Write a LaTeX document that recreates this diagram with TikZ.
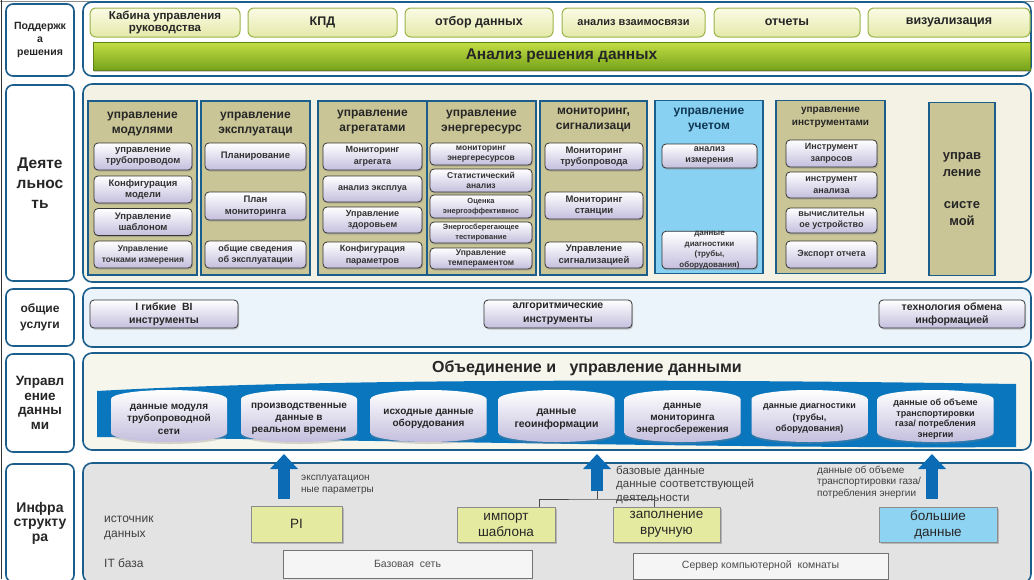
\documentclass[tikz,border=0pt]{standalone}
\usepackage{fontspec}
\setmainfont{Liberation Sans}
\usetikzlibrary{positioning,shadows,arrows.meta,calc}

\definecolor{frameblue}{HTML}{1B5E8C}
\definecolor{olivebox}{HTML}{C9C596}
\definecolor{skybox}{HTML}{88D1F2}
\definecolor{creamfill}{HTML}{F4F2E5}
\definecolor{icefill}{HTML}{EAF4FA}
\definecolor{greyfill}{HTML}{E3E3E3}
\definecolor{lavender}{HTML}{C4BEDD}
\definecolor{btntop}{HTML}{FBFBE6}
\definecolor{btnbottom}{HTML}{E4E9A8}
\definecolor{btnedge}{HTML}{9AB448}
\definecolor{barlight}{HTML}{C3DE45}
\definecolor{bardark}{HTML}{76A31A}
\definecolor{srcyellow}{HTML}{E4EA9F}
\definecolor{srcblue}{HTML}{8ED4F2}
\definecolor{bandblue}{HTML}{0A76BE}
\definecolor{arrowblue}{HTML}{0B6CB5}
\definecolor{txt}{HTML}{262626}

\begin{document}
\begin{tikzpicture}[x=1pt,y=-1pt,
	sz/.style 2 args={minimum width=#1pt,minimum height=#2pt,inner sep=0pt},
	rowlabel/.style={draw=frameblue,line width=1.6pt,rounded corners=7pt,fill=white,align=center,text=txt},
	panel/.style={draw=frameblue,line width=1.6pt,rounded corners=9pt},
	topbtn/.style={draw=btnedge,line width=1pt,rounded corners=6pt,top color=btntop,bottom color=btnbottom,align=center,text=txt},
	column/.style={draw=frameblue,line width=1.8pt,fill=olivebox},
	coltitle/.style={align=center,text=txt,inner sep=0pt,font=\bfseries\fontsize{12}{15}\selectfont},
	subitem/.style={draw=black!80,line width=.8pt,rounded corners=4pt,top color=white,bottom color=lavender,drop shadow={shadow xshift=1pt,shadow yshift=-1.5pt,opacity=.4},align=center,text=black!80,font=\bfseries\fontsize{9.5}{11.5}\selectfont},
	service/.style={subitem,font=\bfseries\fontsize{10.5}{13.5}\selectfont,text=txt},
	drumshade/.style={top color=white,bottom color=lavender,drop shadow={shadow xshift=0pt,shadow yshift=-2pt,opacity=.3}},
	drumtext/.style={align=center,text=txt,inner sep=0pt},
	srcbox/.style={draw=black!45,line width=.8pt,fill=srcyellow,drop shadow={shadow xshift=2pt,shadow yshift=-2pt,opacity=.45},align=center,text=txt,font=\fontsize{13.5}{16}\selectfont},
	itbox/.style={draw=black!55,line width=.7pt,fill=black!4,text=black!70,font=\fontsize{10.5}{12}\selectfont},
	note/.style={anchor=west,align=left,text=black!75,inner sep=0pt},
	bigarrow/.style={draw=arrowblue,line width=12pt,-{Triangle[width=27pt,length=15pt]}},
	bracket/.style={draw=black!70,line width=.7pt}
]
	\useasboundingbox (0,0) rectangle (1034,579);
	\clip (0,0) rectangle (1034,579);
	\draw[black!45,line width=1pt] (0,1) -- (1034,1);
	\draw[black!80,line width=1.2pt] (1.5,0) -- (1.5,579);

	\node[panel,fill=white,sz={948}{74}] (pSupport) at (557,39) {};
	\node[panel,fill=creamfill,sz={948}{198}] (pWork) at (557,183) {};
	\node[panel,fill=icefill,sz={948}{59}] (pService) at (557,317.5) {};
	\node[panel,fill=creamfill!70!white,sz={948}{97}] (pData) at (557,401.5) {};
	\node[panel,fill=greyfill,sz={948}{120}] (pInfra) at (557,523) {};

	\node[rowlabel,sz={68}{72},font=\bfseries\fontsize{10.5}{13}\selectfont] (lSupport) at (40,40) {Поддержк\\а\\решения};
	\node[rowlabel,sz={68}{196},font=\bfseries\fontsize{15.5}{20}\selectfont] (lWork) at (40,183) {Деяте\\льнос\\ть};
	\node[rowlabel,sz={68}{57},font=\bfseries\fontsize{12}{16}\selectfont] (lService) at (40,317.5) {общие\\услуги};
	\node[rowlabel,sz={68}{98},font=\bfseries\fontsize{13.5}{14.5}\selectfont] (lData) at (40,403) {Управл\\ение\\данны\\ми};
	\node[rowlabel,sz={68}{118},font=\bfseries\fontsize{14}{14.5}\selectfont] (lInfra) at (40,523) {Инфра\\структу\\ра};

	\node[topbtn,sz={150}{29},font=\bfseries\fontsize{11.5}{12.5}\selectfont] (b1) at (165,22.5) {Кабина управления\\руководства};
	\node[topbtn,sz={149}{29},font=\bfseries\fontsize{12.5}{14}\selectfont] (b2) at (322.5,22.5) {КПД};
	\node[topbtn,sz={148}{29},font=\bfseries\fontsize{12.5}{14}\selectfont] (b3) at (479,22.5) {отбор данных};
	\node[topbtn,sz={143}{29},font=\bfseries\fontsize{11}{13}\selectfont] (b4) at (633.5,22.5) {анализ взаимосвязи};
	\node[topbtn,sz={146}{29},font=\bfseries\fontsize{12.5}{14}\selectfont] (b5) at (787,22.5) {отчеты};
	\node[topbtn,sz={162}{29},font=\bfseries\fontsize{12.5}{14}\selectfont] (b6) at (949,22.5) {визуализация};
	\node[draw=bardark!80!black,line width=.8pt,top color=barlight,bottom color=bardark,drop shadow={shadow xshift=1pt,shadow yshift=-1.5pt,opacity=.4},sz={937}{28},text=txt,font=\bfseries\fontsize{15.5}{17}\selectfont] (bar) at (561.5,56) {Анализ решения данных};

	\node[column,sz={109}{174}] (cA) at (142.5,188) {};
	\node[column,sz={109}{174}] (cB) at (255.5,188) {};
	\node[column,sz={109}{174}] (cC) at (372.5,188) {};
	\node[column,sz={109}{174}] (cD) at (481.5,188) {};
	\node[column,sz={107}{174}] (cE) at (593.5,188) {};
	\node[column,fill=skybox,sz={108}{173}] (cF) at (709,187) {};
	\node[column,sz={109}{173}] (cG) at (830.5,187) {};
	\node[column,sz={66}{173},align=center,text=txt,font=\bfseries\fontsize{13}{16.5}\selectfont] (cH) at (962,189) {управ\\ление\\[16pt]систе\\мой};

	\node[coltitle] (tA) at ($(cA.north)+(0,23.5)$) {управление\\модулями};
	\node[coltitle] (tB) at ($(cB.north)+(0,23.5)$) {управление\\эксплуатаци};
	\node[coltitle] (tC) at ($(cC.north)+(0,21.5)$) {управление\\агрегатами};
	\node[coltitle] (tD) at ($(cD.north)+(0,21.5)$) {управление\\энергересурс};
	\node[coltitle] (tE) at ($(cE.north)+(0,19.5)$) {мониторинг,\\сигнализаци};
	\node[coltitle,text=frameblue!60!black] (tF) at ($(cF.north)+(0,20)$) {управление\\учетом};
	\node[coltitle,font=\bfseries\fontsize{10}{13}\selectfont] (tG) at ($(cG.north)+(0,18)$) {управление\\инструментами};

	\node[subitem,sz={98}{27}] (m1) at (143,156.5) {управление\\трубопроводом};
	\node[subitem,sz={98}{27}] (m2) at (143,189.5) {Конфигурация\\модели};
	\node[subitem,sz={98}{27}] (m3) at (143,222) {Управление\\шаблоном};
	\node[subitem,sz={98}{27},font=\bfseries\fontsize{8.5}{11}\selectfont] (m4) at (143,254.5) {Управление\\точками измерения};

	\node[subitem,sz={101}{27}] (e1) at (255.5,156.5) {Планирование};
	\node[subitem,sz={101}{28}] (e2) at (255.5,206) {План\\мониторинга};
	\node[subitem,sz={101}{27},font=\bfseries\fontsize{9}{11.5}\selectfont] (e3) at (255.5,254.5) {общие сведения\\об эксплуатации};

	\node[subitem,sz={99}{27},font=\bfseries\fontsize{9}{11.5}\selectfont] (a1) at (372.5,156.5) {Мониторинг\\агрегата};
	\node[subitem,sz={99}{26},font=\bfseries\fontsize{9}{11.5}\selectfont] (a2) at (372.5,189) {анализ эксплуа};
	\node[subitem,sz={99}{26},font=\bfseries\fontsize{9}{11.5}\selectfont] (a3) at (372.5,220) {Управление\\здоровьем};
	\node[subitem,sz={99}{26},font=\bfseries\fontsize{9}{11.5}\selectfont] (a4) at (372.5,255) {Конфигурация\\параметров};

	\node[subitem,sz={102}{22},font=\bfseries\fontsize{8.5}{10}\selectfont] (r1) at (481,154) {мониторинг\\энергересурсов};
	\node[subitem,sz={102}{23},font=\bfseries\fontsize{8.5}{10}\selectfont] (r2) at (481,180.5) {Статистический\\анализ};
	\node[subitem,sz={102}{23},font=\bfseries\fontsize{7.5}{10}\selectfont] (r3) at (481,206.5) {Оценка\\энергоэффективнос};
	\node[subitem,sz={102}{21},font=\bfseries\fontsize{7.5}{9.5}\selectfont] (r4) at (481,232.5) {Энергосберегающее\\тестирование};
	\node[subitem,sz={102}{21},font=\bfseries\fontsize{8.5}{10}\selectfont] (r5) at (481,258.5) {Управление\\темпераментом};

	\node[subitem,sz={98}{27}] (s1) at (594,156.5) {Мониторинг\\трубопровода};
	\node[subitem,sz={98}{27}] (s2) at (594,205.5) {Мониторинг\\станции};
	\node[subitem,sz={98}{26}] (s3) at (594,255) {Управление\\сигнализацией};

	\node[subitem,sz={95}{24},font=\bfseries\fontsize{9}{11}\selectfont] (u1) at (709.5,156) {анализ\\измерения};
	\node[subitem,sz={95}{36},font=\bfseries\fontsize{8}{10.5}\selectfont] (u2) at (709.5,250) {данные\\диагностики\\(трубы,\\оборудования)};

	\node[subitem,sz={91}{27},font=\bfseries\fontsize{9}{11.5}\selectfont] (t1) at (831.5,153.5) {Инструмент\\запросов};
	\node[subitem,sz={91}{26},font=\bfseries\fontsize{9}{11.5}\selectfont] (t2) at (831.5,185) {инструмент\\анализа};
	\node[subitem,sz={91}{25},font=\bfseries\fontsize{9}{11.5}\selectfont] (t3) at (831.5,220.5) {вычислительн\\ое устройство};
	\node[subitem,sz={91}{27},font=\bfseries\fontsize{9}{11.5}\selectfont] (t4) at (831.5,254.5) {Экспорт отчета};

	\node[service,sz={148}{28}] (g1) at (164,314) {I гибкие\ \ BI\\инструменты};
	\node[service,sz={148}{28}] (g2) at (558,314) {алгоритмические\\инструменты};
	\node[service,sz={146}{28}] (g3) at (952,314) {технология обмена\\информацией};

	\node[text=txt,inner sep=0pt,font=\bfseries\fontsize{16}{18}\selectfont] (tData) at (587,368) {Объединение и\ \ \ управление данными};
	\fill[bandblue] (97,391) .. controls (350,377) and (750,380) .. (1016,384) -- (1016,447) .. controls (800,449) and (350,440) .. (97,437) -- cycle;
	\foreach \n/\cx/\fs/\fb/\t in {
		d1/169/10/12.5/{данные модуля\\трубопроводной\\сети},
		d2/299/10/12/{производственные\\данные в\\реальном времени},
		d3/428.5/10/12/{исходные данные\\оборудования},
		d4/556.5/10.5/13/{данные\\геоинформации},
		d5/682.5/10/12/{данные\\мониторинга\\энергосбережения},
		d6/809.5/9/11.5/{данные диагностики\\(трубы,\\оборудования)},
		d7/935.5/9/10.5/{данные об объеме\\транспортировки\\газа/ потребления\\энергии}} {
		\shade[drumshade] (\cx-58,399) arc[start angle=180,end angle=360,x radius=58,y radius=9] -- (\cx+58,433) arc[start angle=0,end angle=180,x radius=58,y radius=9] -- cycle;
		\node[drumtext,font={\bfseries\fontsize{\fs}{\fb}\selectfont}] (\n) at (\cx,419) {\t};
	}

	\node[srcbox,sz={91}{36}] (pi) at (296.5,524) {PI};
	\node[srcbox,sz={98}{35}] (imp) at (506,524.5) {импорт\\шаблона};
	\node[srcbox,sz={107}{35}] (man) at (666.5,524.5) {заполнение\\вручную};
	\node[srcbox,fill=srcblue,sz={118}{35}] (big) at (938,524.5) {большие\\данные};
	\node[itbox,sz={249}{28}] (net) at (407.5,564) {Базовая\ \ сеть};
	\node[itbox,sz={255}{26}] (srv) at (760.5,566) {Сервер компьютерной\ \ комнаты};

	\node[note,font=\fontsize{12}{15}\selectfont] (nSrc) at (104,527.5) {источник\\данных};
	\node[note,font=\fontsize{12}{14}\selectfont] (nIT) at (104,563) {IT база};
	\node[note,font=\fontsize{10}{12.5}\selectfont] (nA) at (301,485) {эксплуатацион\\ные параметры};
	\node[note,font=\fontsize{11.5}{13.5}\selectfont] (nB) at (616,484.5) {базовые данные\\данные соответствующей\\деятельности};
	\node[note,font=\fontsize{10}{11.5}\selectfont] (nC) at (817,482) {данные об объеме\\транспортировки газа/\\потребления энергии};

	\coordinate (arA) at (284,499);
	\coordinate (arB) at (597,491);
	\coordinate (arC) at (932,499);
	\coordinate (brk) at (597,499);
	\draw[bigarrow] (arA) -- (arA |- 0,454);
	\draw[bigarrow] (arB) -- (arB |- 0,454);
	\draw[bigarrow] (arC) -- (arC |- 0,454);
	\draw[bracket] ([xshift=-16pt]imp.north east) |- (brk) -| ([xshift=42pt]man.north west);
	\draw[bracket] (brk) -- (arB);
\end{tikzpicture}
\end{document}
